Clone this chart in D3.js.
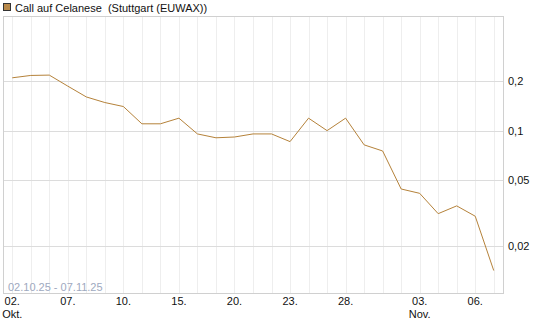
<!DOCTYPE html>
<html>
<head>
<meta charset="utf-8">
<script src="https://cdn.jsdelivr.net/npm/d3@7"></script>
<style>
  body { margin: 0; background: #fff; }
  text { font-family: "Liberation Sans", Arial, sans-serif; font-size: 11px; fill: #111; }
</style>
</head>
<body>
<div id="chart"></div>
<script>
// trading days 02.10.25 - 07.11.25
var days = ["02.10", "03.10", "06.10", "07.10", "08.10", "09.10", "10.10",
    "13.10", "14.10", "15.10", "16.10", "17.10",
    "20.10", "21.10", "22.10", "23.10", "24.10",
    "27.10", "28.10", "29.10", "30.10", "31.10",
    "03.11", "04.11", "05.11", "06.11", "07.11"];

// closing prices (EUR)
var prices = [0.209, 0.216, 0.217, 0.186, 0.160, 0.148, 0.140,
    0.110, 0.110, 0.119, 0.0955, 0.0905,
    0.0915, 0.0955, 0.0955, 0.0858, 0.119,
    0.100, 0.119, 0.0820, 0.0753, 0.0443,
    0.0417, 0.0314, 0.0350, 0.0303, 0.0142];

// labelled x ticks: [day, line1, line2]
var xLabels = [["02.10", "02.", "Okt."], ["07.10", "07.", ""], ["10.10", "10.", ""],
    ["15.10", "15.", ""], ["20.10", "20.", ""], ["23.10", "23.", ""],
    ["28.10", "28.", ""], ["03.11", "03.", "Nov."], ["06.11", "06.", ""]];

var yTicks = [0.2, 0.1, 0.05, 0.02];

var svgWidth = 545;
var svgHeight = 327;

// plot frame
var plotLeft = 3, plotRight = 503, plotTop = 16, plotBottom = 293;

var svg = d3.select("#chart")
    .append("svg")
    .attr("width", svgWidth)
    .attr("height", svgHeight);

var x = d3.scalePoint()
    .domain(days)
    .range([plotLeft, plotRight])
    .padding(0.5);

var y = d3.scaleLog()
    .domain([0.01038, 0.495])
    .range([plotBottom, plotTop]);

// vertical grid, one per trading day
svg.append("g")
    .selectAll("line")
    .data(days)
    .enter()
    .append("line")
    .attr("x1", d => Math.round(x(d)) + 0.5)
    .attr("x2", d => Math.round(x(d)) + 0.5)
    .attr("y1", plotTop)
    .attr("y2", plotBottom)
    .attr("stroke", "#eeeeee");

// horizontal grid
svg.append("g")
    .selectAll("line")
    .data(yTicks)
    .enter()
    .append("line")
    .attr("x1", plotLeft)
    .attr("x2", plotRight)
    .attr("y1", d => Math.round(y(d)) + 0.5)
    .attr("y2", d => Math.round(y(d)) + 0.5)
    .attr("stroke", "#dcdcdc");

// frame
svg.append("rect")
    .attr("x", plotLeft + 0.5)
    .attr("y", plotTop + 0.5)
    .attr("width", plotRight - plotLeft)
    .attr("height", plotBottom - plotTop)
    .attr("fill", "none")
    .attr("stroke", "#d0d0d0");

// y labels on the right
svg.append("g")
    .selectAll("text")
    .data(yTicks)
    .enter()
    .append("text")
    .attr("x", plotRight + 5)
    .attr("y", d => y(d) + 4)
    .text(d => String(d).replace(".", ","));

// x labels
var xl = svg.append("g")
    .selectAll("g")
    .data(xLabels)
    .enter()
    .append("g")
    .attr("transform", d => `translate(${x(d[0])},0)`);

xl.append("text")
    .attr("y", 305)
    .attr("text-anchor", "middle")
    .text(d => d[1]);

xl.append("text")
    .attr("y", 318)
    .attr("text-anchor", "middle")
    .text(d => d[2]);

// price line
var line = d3.line()
    .x((d, i) => x(days[i]))
    .y(d => y(d));

svg.append("path")
    .datum(prices)
    .attr("d", line)
    .attr("fill", "none")
    .attr("stroke", "#b5823a")
    .attr("stroke-width", 1);

// date range
svg.append("text")
    .attr("x", 8)
    .attr("y", 291)
    .style("fill", "#9ea9c0")
    .text("02.10.25 - 07.11.25");

// legend
svg.append("rect")
    .attr("x", 3.5)
    .attr("y", 3.5)
    .attr("width", 7)
    .attr("height", 7)
    .attr("fill", "#b8894a")
    .attr("stroke", "#333");

svg.append("text")
    .attr("x", 15)
    .attr("y", 12)
    .style("white-space", "pre")
    .text("Call auf Celanese  (Stuttgart (EUWAX))");
</script>
</body>
</html>
